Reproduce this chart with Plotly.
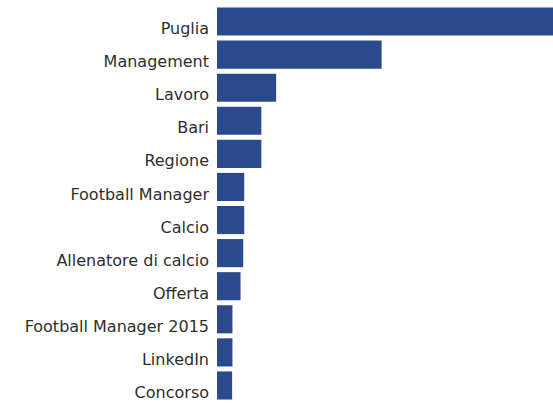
import plotly.graph_objects as go

# Search terms and their relative weight (top term = 100)
terms = [
    "Puglia", "Management", "Lavoro", "Bari", "Regione", "Football Manager",
    "Calcio", "Allenatore di calcio", "Offerta", "Football Manager 2015",
    "LinkedIn", "Concorso",
]
weights = [100, 49, 17.6, 13.2, 13.2, 8.1, 8.1, 7.8, 7.0, 4.6, 4.6, 4.5]

bar_color = "#2a4a8d"

fig = go.Figure(
    go.Bar(
        x=weights,
        y=terms,
        orientation="h",
        marker=dict(color=bar_color, line=dict(width=0)),
        hoverinfo="x+y",
    )
)

fig.update_layout(
    width=553,
    height=404,
    margin=dict(l=217, r=0, t=5, b=2),
    paper_bgcolor="white",
    plot_bgcolor="white",
    bargap=0.15,
    showlegend=False,
    font=dict(family="DejaVu Sans", size=16, color="#2e2e2e"),
)
fig.update_xaxes(
    range=[0, 100],
    visible=False,
    showgrid=False,
    zeroline=False,
)
fig.update_yaxes(
    autorange="reversed",
    showgrid=False,
    zeroline=False,
    showline=False,
    ticks="",
    ticklabelstandoff=7,
    ticklabelshift=-7,
)

fig.write_html("out.html")
